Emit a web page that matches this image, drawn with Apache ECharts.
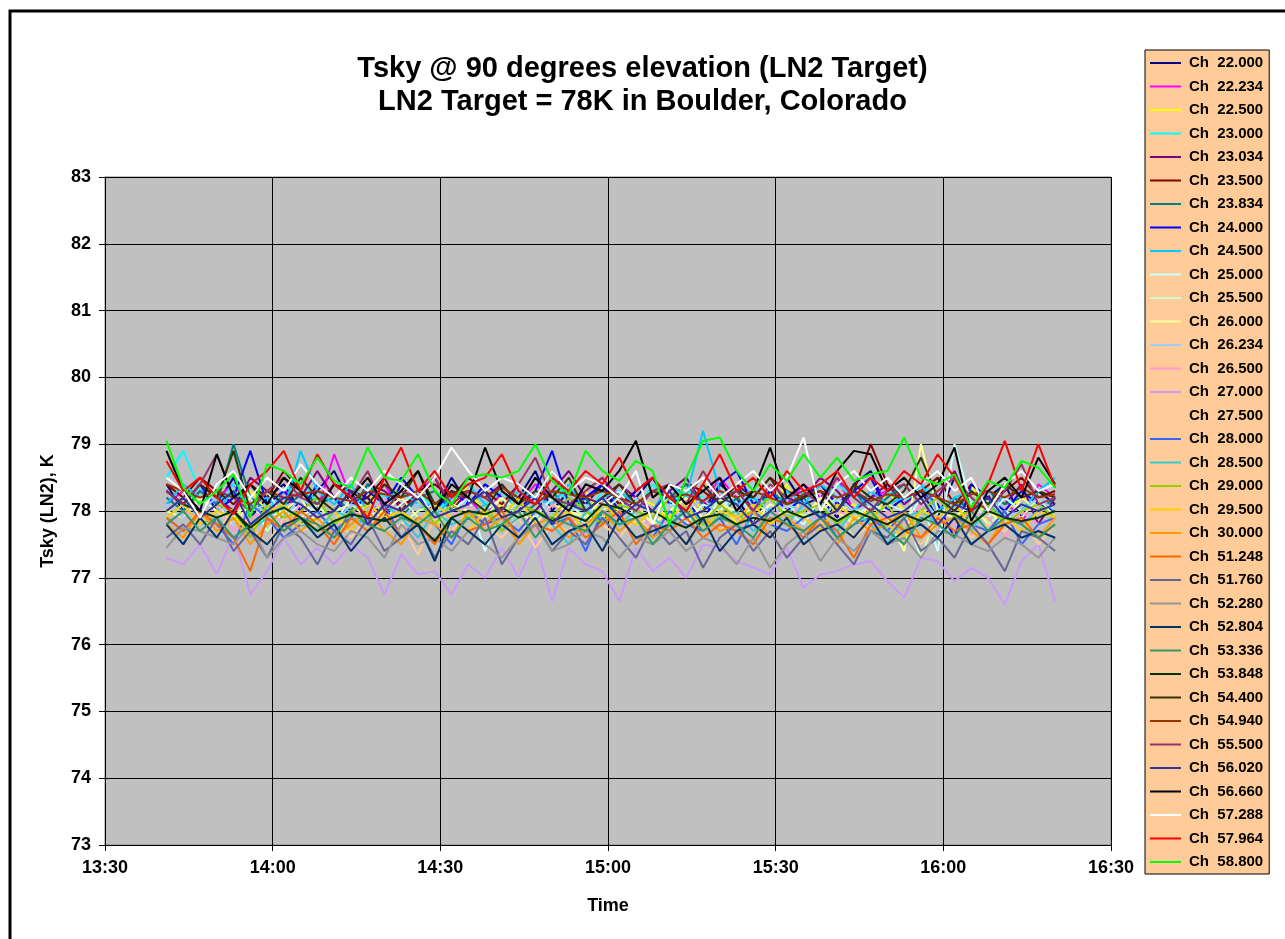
<!DOCTYPE html>
<html>
<head>
<meta charset="utf-8">
<title>Tsky @ 90 degrees elevation (LN2 Target)</title>
<script src="https://cdn.jsdelivr.net/npm/echarts@6/dist/echarts.min.js"></script>
<style>
  html, body { margin: 0; padding: 0; background: #fff; }
  #chart { width: 1285px; height: 939px; }
</style>
</head>
<body>
<div id="chart"></div>
<script>
  const times = [
    '13:41', '13:44', '13:47', '13:50', '13:53', '13:56', '13:59', '14:02', '14:05',
    '14:08', '14:11', '14:14', '14:17', '14:20', '14:23', '14:26', '14:29', '14:32',
    '14:35', '14:38', '14:41', '14:44', '14:47', '14:50', '14:53', '14:56', '14:59',
    '15:02', '15:05', '15:08', '15:11', '15:14', '15:17', '15:20', '15:23', '15:26',
    '15:29', '15:32', '15:35', '15:38', '15:41', '15:44', '15:47', '15:50', '15:53',
    '15:56', '15:59', '16:02', '16:05', '16:08', '16:11', '16:14', '16:17', '16:20'
  ]

  const channels = [
    '22.000', '22.234', '22.500', '23.000', '23.034', '23.500', '23.834', '24.000', '24.500',
    '25.000', '25.500', '26.000', '26.234', '26.500', '27.000', '27.500', '28.000', '28.500',
    '29.000', '29.500', '30.000', '51.248', '51.760', '52.280', '52.804', '53.336', '53.848',
    '54.400', '54.940', '55.500', '56.020', '56.660', '57.288', '57.964', '58.800'
  ]

  const colors = [
    '#000080', '#FF00FF', '#FFFF00', '#00FFFF', '#800080', '#800000', '#008080', '#0000FF', '#00CCFF',
    '#CCFFFF', '#CCFFCC', '#FFFF99', '#99CCFF', '#FF99CC', '#CC99FF', '#FFCC99', '#3366FF', '#33CCCC',
    '#99CC00', '#FFCC00', '#FF9900', '#FF6600', '#666699', '#969696', '#003366', '#339966', '#003300',
    '#333300', '#993300', '#993366', '#333399', '#000000', '#FFFFFF', '#FF0000', '#00FF00'
  ]

  const yTicks = [73, 74, 75, 76, 77, 78, 79, 80, 81, 82, 83]
  const xTicks = ['13:30', '14:00', '14:30', '15:00', '15:30', '16:00', '16:30']

  const ch22_000 = [
    78.4, 78.0, 78.3, 78.1, 78.5, 77.9, 78.2, 78.4, 78.0,
    78.3, 78.6, 78.1, 78.2, 77.9, 78.4, 78.2, 78.0, 78.5,
    78.1, 78.3, 77.9, 78.2, 78.6, 78.0, 78.3, 78.1, 78.4,
    77.9, 78.2, 78.5, 78.1, 78.3, 78.0, 78.4, 78.2, 77.8,
    78.3, 78.5, 78.1, 78.2, 77.9, 78.4, 78.6, 78.0, 78.2,
    78.3, 77.9, 78.5, 78.1, 78.2, 78.4, 77.9, 78.3, 78.1
  ]
  const ch22_234 = [
    78.1, 78.3, 78.0, 78.2, 78.4, 78.1, 77.9, 78.3, 78.2,
    78.0, 78.85, 78.2, 78.1, 78.4, 78.0, 78.3, 78.5, 78.1,
    78.2, 77.9, 78.3, 78.1, 78.4, 78.2, 78.0, 78.3, 78.5,
    78.1, 78.2, 78.0, 78.4, 78.3, 78.1, 78.5, 78.2, 78.0,
    78.3, 78.1, 78.4, 78.2, 78.5, 78.0, 78.2, 78.3, 78.1,
    78.4, 78.2, 78.0, 78.3, 78.1, 78.2, 77.8, 78.4, 78.2
  ]
  const ch22_500 = [
    78.0, 78.2, 77.9, 78.1, 77.8, 78.3, 78.0, 77.9, 78.2,
    78.1, 77.8, 78.0, 78.3, 77.9, 78.1, 78.2, 77.8, 78.0,
    78.4, 77.9, 78.1, 78.0, 78.2, 77.8, 78.1, 78.3, 77.9,
    78.0, 78.2, 78.1, 77.9, 78.3, 78.0, 78.2, 77.8, 78.1,
    78.0, 78.4, 77.9, 78.2, 78.0, 78.1, 77.8, 78.3, 78.0,
    78.2, 77.9, 78.1, 78.4, 77.8, 78.0, 78.2, 78.1, 78.0
  ]
  const ch23_000 = [
    78.5, 78.9, 78.3, 78.1, 78.4, 78.2, 78.0, 78.3, 78.5,
    78.1, 78.2, 77.9, 78.4, 78.2, 78.1, 78.3, 78.0, 78.2,
    78.4, 78.1, 78.3, 78.0, 78.2, 78.5, 78.1, 77.9, 78.3,
    78.2, 78.0, 78.4, 78.1, 78.3, 78.2, 78.0, 78.4, 78.1,
    78.2, 77.9, 78.3, 78.1, 78.4, 78.2, 78.0, 78.3, 78.1,
    78.4, 78.2, 78.0, 78.3, 78.1, 78.2, 78.0, 78.3, 78.4
  ]
  const ch23_034 = [
    78.3, 78.1, 78.4, 78.2, 78.0, 78.5, 78.3, 78.1, 78.2,
    78.6, 78.2, 78.0, 78.4, 78.3, 78.1, 78.2, 78.5, 78.0,
    78.3, 78.2, 78.4, 78.1, 78.0, 78.3, 78.6, 78.2, 78.1,
    78.4, 78.2, 78.0, 78.3, 78.5, 78.1, 78.2, 78.4, 78.0,
    78.3, 78.1, 78.2, 78.5, 78.3, 78.0, 78.2, 78.4, 78.1,
    78.3, 78.2, 78.6, 78.0, 78.3, 78.1, 78.4, 77.8, 78.2
  ]
  const ch23_500 = [
    78.4, 78.2, 78.5, 78.3, 78.1, 78.4, 78.2, 78.6, 78.3,
    78.1, 78.4, 78.3, 78.2, 78.5, 78.0, 78.3, 78.4, 78.2,
    78.5, 78.3, 78.1, 78.4, 78.2, 78.6, 78.3, 78.2, 78.4,
    78.1, 78.3, 78.5, 78.2, 78.4, 78.3, 78.1, 78.4, 78.2,
    78.5, 78.3, 78.2, 78.4, 78.1, 78.3, 79.0, 78.4, 78.2,
    78.3, 78.5, 78.1, 78.4, 78.2, 78.3, 78.5, 78.2, 78.3
  ]
  const ch23_834 = [
    78.2, 78.0, 78.3, 78.1, 79.0, 78.2, 78.0, 77.9, 78.3,
    78.1, 78.2, 78.0, 78.4, 78.1, 77.9, 78.2, 78.3, 78.0,
    78.1, 78.4, 78.2, 77.9, 78.1, 78.3, 78.0, 78.2, 77.8,
    78.3, 78.1, 78.0, 78.2, 78.4, 78.1, 77.9, 78.2, 78.0,
    78.3, 78.1, 78.2, 77.9, 78.1, 78.3, 78.0, 78.2, 78.4,
    78.1, 77.9, 78.2, 78.0, 78.3, 78.1, 78.2, 78.0, 78.2
  ]
  const ch24_000 = [
    78.3, 78.1, 78.4, 78.0, 78.2, 78.9, 78.1, 78.3, 78.0,
    78.4, 78.2, 77.9, 78.3, 78.1, 78.5, 78.2, 78.0, 78.3,
    78.1, 78.4, 78.2, 78.0, 78.3, 78.9, 78.1, 78.2, 78.4,
    78.0, 78.3, 78.5, 78.1, 78.2, 77.8, 78.4, 78.6, 78.1,
    78.3, 78.0, 78.2, 78.4, 78.1, 78.3, 78.5, 78.0, 78.2,
    78.3, 78.1, 77.6, 78.4, 78.2, 78.0, 78.3, 78.1, 78.0
  ]
  const ch24_500 = [
    78.1, 78.4, 78.2, 78.0, 78.3, 78.1, 78.2, 78.0, 78.9,
    78.3, 78.1, 78.4, 78.0, 78.2, 78.3, 78.1, 77.9, 78.2,
    78.4, 78.1, 78.0, 78.3, 78.2, 78.1, 78.4, 78.0, 78.2,
    78.3, 78.1, 78.0, 78.4, 78.2, 79.2, 78.3, 78.1, 78.2,
    78.0, 78.3, 78.1, 78.4, 78.2, 78.0, 78.3, 78.1, 78.2,
    78.4, 78.0, 78.2, 78.3, 78.1, 78.2, 78.0, 78.3, 78.5
  ]
  const ch25_000 = [
    78.0, 78.2, 77.9, 78.1, 77.8, 78.0, 78.3, 77.9, 78.1,
    78.0, 77.8, 78.2, 78.0, 77.9, 78.1, 78.3, 77.9, 78.0,
    78.2, 77.4, 78.0, 78.1, 77.9, 78.2, 78.0, 77.8, 78.1,
    78.3, 77.9, 78.0, 78.2, 77.8, 78.1, 78.0, 78.3, 77.9,
    78.1, 78.0, 77.8, 78.2, 78.0, 77.9, 78.1, 78.0, 77.8,
    78.2, 77.4, 79.0, 78.1, 77.9, 78.2, 78.0, 78.1, 77.9
  ]
  const ch25_500 = [
    77.9, 78.1, 77.8, 78.0, 77.9, 78.2, 77.7, 78.0, 77.9,
    78.1, 77.8, 78.0, 77.9, 78.2, 77.8, 78.0, 78.1, 77.9,
    77.7, 78.0, 78.2, 77.9, 78.0, 77.8, 78.1, 77.9, 78.0,
    78.2, 77.8, 77.9, 78.1, 78.0, 77.8, 78.2, 77.9, 78.0,
    77.8, 78.1, 77.9, 78.0, 78.2, 77.8, 77.9, 78.1, 78.0,
    77.3, 78.0, 77.9, 78.1, 77.8, 78.0, 77.9, 78.2, 77.9
  ]
  const ch26_000 = [
    78.0, 77.9, 78.2, 78.0, 77.8, 78.1, 77.9, 78.0, 78.2,
    77.8, 78.0, 78.1, 77.9, 78.0, 78.2, 77.9, 77.8, 78.1,
    78.0, 77.9, 78.2, 78.0, 77.8, 78.1, 78.0, 77.9, 78.2,
    78.0, 78.1, 77.8, 78.0, 78.2, 77.9, 78.1, 78.0, 77.8,
    78.1, 78.0, 77.9, 78.2, 78.0, 77.8, 78.1, 77.9, 77.4,
    79.0, 78.0, 77.9, 78.1, 78.0, 77.8, 78.2, 78.0, 78.1
  ]
  const ch26_234 = [
    78.1, 77.9, 78.0, 78.2, 77.8, 78.0, 78.1, 77.9, 78.2,
    78.0, 77.8, 78.1, 78.0, 78.2, 77.9, 78.1, 78.0, 77.8,
    78.2, 78.0, 77.9, 78.1, 78.3, 77.9, 78.0, 78.1, 77.8,
    78.0, 78.2, 77.9, 78.1, 78.0, 78.2, 77.9, 78.0, 78.4,
    77.9, 78.1, 78.0, 77.8, 78.2, 78.0, 78.1, 77.9, 78.0,
    78.2, 77.9, 78.1, 78.0, 78.3, 77.9, 78.0, 78.2, 78.0
  ]
  const ch26_500 = [
    77.8, 78.0, 77.9, 78.1, 77.7, 77.9, 78.0, 77.8, 78.1,
    77.9, 77.7, 78.0, 77.9, 78.2, 77.8, 77.6, 78.0, 77.9,
    78.1, 77.8, 77.9, 78.0, 77.7, 78.1, 77.9, 77.8, 78.0,
    77.9, 78.1, 77.7, 77.9, 78.0, 77.8, 78.1, 77.9, 77.7,
    78.0, 77.9, 78.1, 77.8, 78.0, 77.9, 77.7, 78.0, 77.8,
    78.1, 77.9, 77.8, 78.0, 77.9, 77.6, 78.0, 77.8, 77.9
  ]
  const ch27_000 = [
    77.3, 77.2, 77.5, 77.05, 77.65, 76.75, 77.1, 77.6, 77.2,
    77.45, 77.2, 77.5, 77.3, 76.75, 77.35, 77.05, 77.1, 76.75,
    77.2, 77.0, 77.45, 77.0, 77.55, 76.65, 77.45, 77.2, 77.1,
    76.65, 77.45, 77.1, 77.3, 77.0, 77.5, 77.45, 77.25, 77.15,
    77.05, 77.45, 76.85, 77.05, 77.1, 77.2, 77.25, 76.95, 76.7,
    77.3, 77.25, 76.95, 77.15, 77.0, 76.6, 77.25, 77.5, 76.65
  ]
  const ch27_500 = [
    77.8, 77.6, 77.9, 77.7, 78.0, 77.8, 77.5, 77.9, 77.7,
    77.8, 78.0, 77.6, 77.9, 77.7, 77.8, 77.35, 77.9, 77.7,
    78.0, 77.8, 77.6, 77.9, 77.45, 77.8, 77.7, 78.0, 77.8,
    77.6, 77.9, 77.7, 77.8, 77.5, 77.9, 77.7, 78.0, 77.8,
    77.6, 77.9, 77.7, 77.8, 78.0, 77.6, 77.8, 77.9, 77.7,
    77.5, 77.8, 77.9, 77.6, 77.8, 77.7, 77.9, 77.5, 77.8
  ]
  const ch28_000 = [
    77.9, 77.7, 78.0, 77.8, 77.5, 78.1, 77.9, 77.6, 77.8,
    78.0, 77.7, 77.9, 77.8, 78.1, 77.6, 77.9, 77.8, 77.5,
    78.0, 77.8, 77.9, 77.7, 78.0, 77.8, 77.9, 77.4, 78.0,
    77.8, 77.9, 77.6, 78.0, 77.8, 77.7, 77.9, 77.5, 78.0,
    77.8, 77.7, 77.9, 78.0, 77.6, 77.8, 77.9, 77.7, 78.0,
    77.8, 77.6, 77.9, 77.8, 77.7, 78.0, 77.5, 77.8, 77.9
  ]
  const ch28_500 = [
    77.9, 78.1, 77.8, 77.9, 78.0, 77.7, 77.9, 78.1, 77.8,
    77.7, 78.0, 77.9, 77.8, 78.1, 77.9, 77.6, 78.0, 77.8,
    77.9, 78.1, 77.7, 77.9, 78.0, 77.8, 77.5, 78.0, 77.9,
    77.8, 78.0, 77.9, 77.7, 78.1, 77.8, 77.9, 78.0, 77.7,
    77.9, 77.8, 78.1, 77.9, 77.7, 78.0, 77.8, 77.5, 77.9,
    78.0, 77.8, 77.9, 77.7, 78.1, 77.9, 77.8, 78.0, 77.9
  ]
  const ch29_000 = [
    78.0, 78.2, 77.9, 78.1, 78.0, 77.6, 78.1, 77.9, 78.0,
    78.2, 77.8, 78.0, 78.1, 77.9, 78.0, 78.2, 77.8, 78.1,
    77.9, 78.0, 77.7, 78.1, 78.0, 77.9, 78.2, 78.0, 77.8,
    78.1, 78.0, 77.9, 78.2, 78.0, 77.8, 78.1, 77.9, 78.0,
    78.2, 77.9, 78.0, 78.1, 77.8, 78.0, 77.9, 78.1, 77.7,
    78.0, 78.2, 77.9, 78.0, 78.1, 77.8, 78.0, 78.1, 77.9
  ]
  const ch29_500 = [
    77.9, 78.1, 77.8, 78.0, 77.9, 77.7, 78.0, 78.1, 77.8,
    77.9, 78.0, 77.7, 78.1, 77.9, 78.0, 77.8, 78.1, 77.9,
    77.7, 78.0, 77.9, 78.2, 77.8, 77.9, 78.0, 77.7, 78.1,
    77.9, 77.8, 78.0, 77.9, 78.1, 77.7, 78.0, 77.9, 78.1,
    77.8, 78.0, 77.9, 77.7, 78.1, 77.9, 78.0, 77.8, 77.6,
    78.0, 77.9, 78.1, 77.8, 78.0, 77.9, 77.7, 78.0, 77.9
  ]
  const ch30_000 = [
    77.8, 77.6, 78.0, 77.7, 77.9, 77.5, 77.8, 78.0, 77.7,
    77.9, 77.6, 77.8, 78.0, 77.7, 77.5, 77.9, 77.8, 77.6,
    78.0, 77.7, 77.9, 77.5, 77.8, 77.9, 77.6, 77.8, 78.0,
    77.7, 77.9, 77.6, 77.8, 77.5, 77.9, 77.7, 77.8, 78.0,
    77.6, 77.9, 77.7, 77.8, 77.5, 77.9, 77.7, 77.8, 78.0,
    77.6, 77.8, 77.9, 77.7, 77.5, 77.9, 77.8, 77.6, 77.9
  ]
  const ch51_248 = [
    77.9, 77.7, 78.0, 77.8, 77.6, 77.1, 77.9, 77.7, 78.0,
    77.8, 77.5, 77.9, 77.7, 78.0, 77.6, 77.8, 77.5, 77.9,
    77.7, 77.8, 78.0, 77.6, 77.8, 77.7, 77.9, 77.6, 77.8,
    78.0, 77.5, 77.8, 77.7, 77.9, 77.6, 77.8, 77.7, 77.5,
    77.9, 77.8, 77.6, 77.9, 77.7, 77.3, 77.8, 77.9, 77.7,
    77.6, 77.9, 77.7, 77.8, 77.5, 77.8, 77.9, 77.6, 77.8
  ]
  const ch51_760 = [
    77.6, 77.8, 77.5, 77.9, 77.4, 77.7, 77.3, 77.8, 77.6,
    77.2, 77.7, 77.5, 77.9, 77.4, 77.6, 77.8, 77.3, 77.7,
    77.5, 77.9, 77.2, 77.6, 77.8, 77.4, 77.7, 77.5, 77.9,
    77.6, 77.3, 77.8, 77.5, 77.7, 77.15, 77.6, 77.8, 77.4,
    77.7, 77.3, 77.6, 77.8, 77.5, 77.2, 77.7, 77.6, 77.9,
    77.4, 77.6, 77.3, 77.8, 77.5, 77.1, 77.7, 77.6, 77.4
  ]
  const ch52_280 = [
    77.45, 77.75, 77.7, 77.6, 77.5, 77.8, 77.3, 77.6, 77.7,
    77.5, 77.4, 77.7, 77.6, 77.3, 77.8, 77.5, 77.6, 77.4,
    77.7, 77.5, 77.3, 77.6, 77.8, 77.4, 77.5, 77.7, 77.6,
    77.3, 77.6, 77.5, 77.7, 77.4, 77.6, 77.5, 77.2, 77.6,
    77.15, 77.5, 77.7, 77.25, 77.6, 77.4, 77.7, 77.5, 77.6,
    77.3, 77.7, 77.65, 77.5, 77.4, 77.6, 77.5, 77.3, 77.6
  ]
  const ch52_804 = [
    77.8, 77.5, 77.9, 77.6, 78.0, 77.7, 77.5, 77.8, 77.9,
    77.6, 77.8, 77.4, 77.7, 77.9, 77.6, 77.8, 77.25, 77.9,
    77.7, 77.5, 77.8, 77.6, 77.9, 77.5, 77.7, 77.8, 77.4,
    77.9, 77.6, 77.7, 77.8, 77.5, 77.9, 77.4, 77.7, 77.8,
    77.6, 77.9, 77.5, 77.7, 77.8, 77.6, 77.9, 77.5, 77.7,
    77.8, 77.6, 77.9, 77.5, 77.7, 77.8, 77.6, 77.7, 77.6
  ]
  const ch53_336 = [
    77.8, 78.0, 77.7, 77.9, 77.6, 77.8, 78.0, 77.7, 77.9,
    77.8, 77.6, 78.0, 77.8, 77.7, 77.9, 77.8, 78.0, 77.6,
    77.9, 77.7, 77.8, 78.0, 77.6, 77.9, 77.8, 77.7, 78.0,
    77.8, 77.9, 77.5, 77.8, 78.0, 77.7, 77.9, 77.8, 77.6,
    78.0, 77.8, 77.7, 77.9, 77.6, 77.8, 78.0, 77.7, 77.5,
    77.9, 77.8, 77.6, 78.0, 77.7, 77.9, 77.8, 77.6, 77.8
  ]
  const ch53_848 = [
    78.3, 78.1, 78.0, 77.9, 78.0, 77.75, 77.95, 78.05, 77.9,
    77.7, 77.85, 77.95, 77.9, 77.85, 77.95, 77.8, 77.55, 77.9,
    78.0, 77.95, 78.05, 77.9, 78.0, 77.85, 77.95, 77.85, 78.1,
    78.05, 77.9, 78.0, 77.85, 77.75, 77.9, 77.95, 77.8, 77.9,
    77.85, 78.0, 77.9, 78.0, 77.85, 78.0, 77.9, 77.8, 77.95,
    77.85, 78.0, 77.95, 77.8, 78.0, 77.9, 77.85, 77.9, 78.0
  ]
  const ch54_400 = [
    78.3, 78.1, 78.4, 78.2, 78.9, 78.0, 78.3, 78.1, 78.5,
    78.2, 78.0, 78.3, 78.1, 78.4, 78.2, 78.6, 78.1, 78.3,
    78.2, 78.0, 78.4, 78.1, 78.3, 78.2, 78.5, 78.0, 78.2,
    78.4, 78.1, 78.3, 78.2, 78.0, 78.4, 78.1, 78.3, 78.2,
    78.5, 78.1, 78.2, 78.3, 78.0, 78.4, 78.2, 78.1, 78.3,
    78.8, 78.2, 78.0, 78.3, 78.1, 78.4, 78.2, 78.3, 78.2
  ]
  const ch54_940 = [
    78.4, 78.3, 78.2, 78.3, 78.2, 78.1, 78.3, 78.2, 78.25,
    78.3, 78.2, 78.15, 78.3, 78.25, 78.2, 78.3, 78.1, 78.25,
    78.3, 78.2, 78.35, 78.2, 78.1, 78.3, 78.25, 78.2, 78.3,
    78.2, 78.1, 78.3, 78.2, 78.25, 78.15, 78.3, 78.2, 78.3,
    78.2, 78.1, 78.25, 78.3, 78.2, 78.3, 78.15, 78.25, 78.2,
    78.3, 78.2, 78.1, 78.25, 78.3, 78.2, 78.35, 78.2, 78.25
  ]
  const ch55_500 = [
    78.3, 78.1, 78.4, 78.85, 78.2, 78.0, 78.3, 78.5, 78.2,
    78.1, 78.4, 78.2, 78.6, 78.0, 78.3, 78.2, 78.5, 78.1,
    78.3, 78.2, 78.0, 78.4, 78.8, 78.2, 78.1, 78.3, 78.5,
    78.2, 78.0, 78.3, 78.4, 78.1, 78.6, 78.2, 78.3, 78.0,
    78.4, 78.2, 78.3, 78.1, 78.5, 78.2, 78.0, 78.3, 78.4,
    78.1, 78.3, 78.5, 78.2, 78.0, 78.3, 78.7, 78.1, 78.2
  ]
  const ch56_020 = [
    78.0, 78.2, 77.9, 78.1, 78.3, 77.8, 78.0, 78.2, 78.1,
    77.9, 78.0, 78.3, 77.8, 78.1, 78.0, 78.2, 77.9, 78.0,
    78.1, 78.3, 77.9, 78.0, 78.2, 77.8, 78.1, 78.0, 78.2,
    77.9, 78.1, 78.0, 78.3, 77.9, 78.0, 78.2, 78.1, 77.8,
    78.0, 78.2, 78.1, 77.9, 78.0, 78.3, 78.1, 77.9, 78.0,
    78.2, 77.8, 78.1, 78.0, 78.2, 77.9, 78.1, 78.0, 78.1
  ]
  const ch56_660 = [
    78.9, 78.3, 78.0, 78.85, 78.2, 78.4, 78.1, 78.5, 78.3,
    78.0, 78.4, 78.2, 78.5, 78.1, 78.3, 78.6, 78.0, 78.4,
    78.2, 78.95, 78.3, 78.1, 78.5, 78.2, 78.0, 78.4, 78.3,
    78.6, 79.05, 78.2, 78.4, 78.1, 78.3, 78.5, 78.0, 78.3,
    78.95, 78.2, 78.4, 78.1, 78.6, 78.9, 78.85, 78.3, 78.5,
    78.2, 78.4, 78.95, 77.85, 78.3, 78.5, 78.2, 78.8, 78.4
  ]
  const ch57_288 = [
    78.5, 78.3, 77.9, 78.4, 78.6, 78.2, 78.5, 78.3, 78.7,
    78.4, 78.2, 78.5, 78.3, 78.6, 78.4, 78.2, 78.5, 78.95,
    78.6, 78.3, 78.5, 78.4, 78.2, 78.6, 78.3, 78.5, 78.4,
    78.2, 78.6, 77.8, 78.4, 78.3, 78.5, 78.2, 78.4, 78.6,
    78.3, 78.5, 79.1, 78.0, 78.4, 78.6, 78.3, 78.5, 78.2,
    78.4, 78.6, 78.3, 78.5, 78.0, 78.4, 78.6, 78.3, 78.4
  ]
  const ch57_964 = [
    78.75, 78.3, 78.5, 78.2, 77.95, 78.4, 78.6, 78.9, 78.3,
    78.85, 78.4, 78.2, 77.9, 78.5, 78.95, 78.3, 78.6, 78.2,
    78.4, 78.5, 78.85, 78.3, 78.1, 78.5, 78.3, 78.6, 78.4,
    78.8, 78.3, 78.5, 78.2, 78.0, 78.4, 78.85, 78.3, 78.5,
    78.2, 78.6, 78.3, 78.4, 78.6, 78.2, 78.5, 78.3, 78.6,
    78.4, 78.85, 78.5, 78.0, 78.4, 79.05, 78.3, 79.0, 78.35
  ]
  const ch58_800 = [
    79.05, 78.35, 78.1, 78.3, 78.55, 77.9, 78.7, 78.6, 78.4,
    78.8, 78.45, 78.35, 78.95, 78.5, 78.45, 78.85, 78.3, 78.1,
    78.5, 78.55, 78.5, 78.6, 79.0, 78.45, 78.25, 78.9, 78.6,
    78.45, 78.75, 78.6, 77.8, 78.5, 79.05, 79.1, 78.6, 78.3,
    78.7, 78.45, 78.85, 78.5, 78.8, 78.45, 78.55, 78.6, 79.1,
    78.5, 78.4, 78.55, 78.05, 78.45, 78.35, 78.75, 78.65, 78.35
  ]

  const seriesValues = [
    ch22_000, ch22_234, ch22_500, ch23_000, ch23_034, ch23_500, ch23_834, ch24_000, ch24_500,
    ch25_000, ch25_500, ch26_000, ch26_234, ch26_500, ch27_000, ch27_500, ch28_000, ch28_500,
    ch29_000, ch29_500, ch30_000, ch51_248, ch51_760, ch52_280, ch52_804, ch53_336, ch53_848,
    ch54_400, ch54_940, ch55_500, ch56_020, ch56_660, ch57_288, ch57_964, ch58_800
  ]

  const FONT = 'Arial, "Liberation Sans", sans-serif'

  const toMinutes = (t) => {
    const [h, m] = t.split(':').map(Number)
    return h * 60 + m
  }
  const toClock = (v) => {
    const h = Math.floor(v / 60)
    const m = v % 60
    return h + ':' + (m < 10 ? '0' : '') + m
  }

  const xs = times.map(toMinutes)
  const xMin = toMinutes(xTicks[0])
  const xMax = toMinutes(xTicks[xTicks.length - 1])

  const series = channels.map((ch, i) => ({
    name: 'Ch  ' + ch,
    type: 'line',
    color: colors[i],
    showSymbol: false,
    symbol: 'none',
    lineStyle: { width: 2, color: colors[i] },
    data: seriesValues[i].map((v, j) => [xs[j], v])
  }))

  const chart = echarts.init(document.getElementById('chart'))
  chart.setOption({
    animation: false,
    backgroundColor: '#fff',
    title: {
      text: 'Tsky @ 90 degrees elevation (LN2 Target)\nLN2 Target = 78K in Boulder, Colorado',
      left: 'center',
      top: 47,
      textStyle: { fontFamily: FONT, fontSize: 29, fontWeight: 'bold', color: '#000', lineHeight: 33 }
    },
    legend: {
      orient: 'vertical',
      left: 1145,
      top: 50,
      backgroundColor: '#FFCC99',
      borderColor: '#000',
      borderWidth: 1,
      padding: [5, 6, 4, 5],
      icon: 'rect',
      itemWidth: 31,
      itemHeight: 2,
      itemGap: 7.5,
      selectedMode: false,
      textStyle: { fontFamily: FONT, fontSize: 15, fontWeight: 'bold', color: '#000', lineHeight: 16, padding: [0, 0, 0, 3] }
    },
    grid: {
      left: 105,
      top: 177,
      width: 1006,
      height: 668,
      show: true,
      backgroundColor: '#C0C0C0',
      borderColor: '#808080',
      borderWidth: 1
    },
    xAxis: {
      type: 'value',
      min: xMin,
      max: xMax,
      interval: 30,
      name: 'Time',
      nameLocation: 'middle',
      nameGap: 52,
      nameTextStyle: { fontFamily: FONT, fontSize: 18, fontWeight: 'bold', color: '#000' },
      axisLine: { lineStyle: { color: '#000', width: 1 } },
      axisTick: { length: 6, lineStyle: { color: '#000' } },
      axisLabel: {
        formatter: toClock,
        margin: 14,
        fontFamily: FONT, fontSize: 18, fontWeight: 'bold', color: '#000'
      },
      splitLine: { show: true, lineStyle: { color: '#000', width: 1 } }
    },
    yAxis: {
      type: 'value',
      min: yTicks[0],
      max: yTicks[yTicks.length - 1],
      interval: 1,
      name: 'Tsky (LN2), K',
      nameLocation: 'middle',
      nameGap: 48,
      nameTextStyle: { fontFamily: FONT, fontSize: 18, fontWeight: 'bold', color: '#000' },
      axisLine: { show: true, lineStyle: { color: '#000', width: 1 } },
      axisTick: { show: true, length: 6, lineStyle: { color: '#000' } },
      axisLabel: { margin: 14, fontFamily: FONT, fontSize: 18, fontWeight: 'bold', color: '#000' },
      splitLine: { show: true, lineStyle: { color: '#000', width: 1 } }
    },
    graphic: [{
      type: 'rect',
      silent: true,
      shape: { x: 10, y: 11, width: 1300, height: 960 },
      style: { fill: null, stroke: '#000', lineWidth: 3 }
    }],
    series
  })
</script>
</body>
</html>
